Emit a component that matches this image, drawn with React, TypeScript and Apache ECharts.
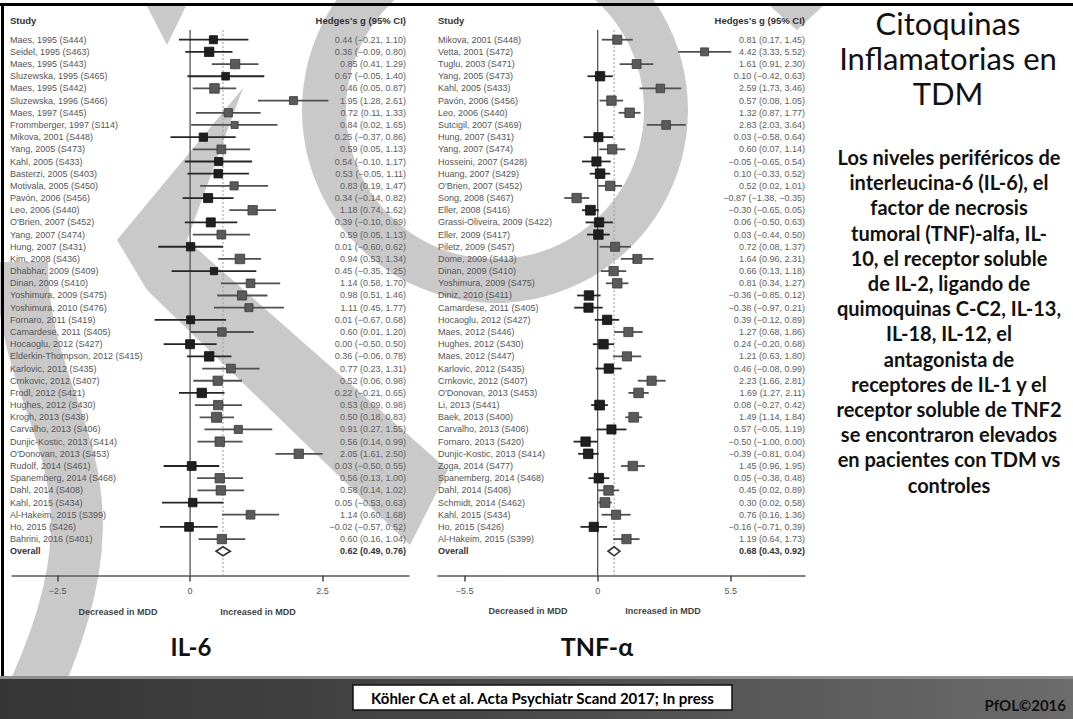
import React, { useEffect, useRef } from 'react';
import * as echarts from 'echarts';

// ---------------- data ----------------
const il6Studies = [
  'Maes, 1995 (S444)', 'Seidel, 1995 (S463)', 'Maes, 1995 (S443)', 'Sluzewska, 1995 (S465)',
  'Maes, 1995 (S442)', 'Sluzewska, 1996 (S466)', 'Maes, 1997 (S445)', 'Frommberger, 1997 (S114)',
  'Mikova, 2001 (S448)', 'Yang, 2005 (S473)', 'Kahl, 2005 (S433)', 'Basterzi, 2005 (S403)',
  'Motivala, 2005 (S450)', 'Pavón, 2006 (S456)', 'Leo, 2006 (S440)', "O'Brien, 2007 (S452)",
  'Yang, 2007 (S474)', 'Hung, 2007 (S431)', 'Kim, 2008 (S436)', 'Dhabhar, 2009 (S409)',
  'Dinan, 2009 (S410)', 'Yoshimura, 2009 (S475)', 'Yoshimura, 2010 (S476)', 'Fornaro, 2011 (S419)',
  'Camardese, 2011 (S405)', 'Hocaoglu, 2012 (S427)', 'Elderkin-Thompson, 2012 (S415)', 'Karlovic, 2012 (S435)',
  'Crnkovic, 2012 (S407)', 'Frodl, 2012 (S421)', 'Hughes, 2012 (S430)', 'Krogh, 2013 (S438)',
  'Carvalho, 2013 (S406)', 'Dunjic-Kostic, 2013 (S414)', "O'Donovan, 2013 (S453)", 'Rudolf, 2014 (S461)',
  'Spanemberg, 2014 (S468)', 'Dahl, 2014 (S408)', 'Kahl, 2015 (S434)', 'Al-Hakeim, 2015 (S399)',
  'Ho, 2015 (S426)', 'Bahrini, 2016 (S401)',
];
const il6Est = [0.44, 0.36, 0.85, 0.67, 0.46, 1.95, 0.72, 0.84, 0.25, 0.59, 0.54, 0.53, 0.83, 0.34, 1.18, 0.39, 0.59, 0.01, 0.94, 0.45, 1.14, 0.98, 1.11, 0.01, 0.60, 0.00, 0.36, 0.77, 0.52, 0.22, 0.53, 0.50, 0.91, 0.56, 2.05, 0.03, 0.56, 0.58, 0.05, 1.14, -0.02, 0.60];
const il6Lo = [-0.21, -0.09, 0.41, -0.05, 0.05, 1.28, 0.11, 0.02, -0.37, 0.05, -0.10, -0.05, 0.19, -0.14, 0.74, -0.10, 0.05, -0.60, 0.53, -0.35, 0.58, 0.51, 0.45, -0.67, 0.01, -0.50, -0.06, 0.23, 0.06, -0.21, 0.09, 0.18, 0.27, 0.14, 1.61, -0.50, 0.13, 0.14, -0.53, 0.60, -0.57, 0.16];
const il6Hi = [1.10, 0.80, 1.29, 1.40, 0.87, 2.61, 1.33, 1.65, 0.86, 1.13, 1.17, 1.11, 1.47, 0.82, 1.62, 0.89, 1.13, 0.62, 1.34, 1.25, 1.70, 1.46, 1.77, 0.68, 1.20, 0.50, 0.78, 1.31, 0.98, 0.65, 0.98, 0.83, 1.55, 0.99, 2.50, 0.55, 1.00, 1.02, 0.63, 1.68, 0.52, 1.04];
const il6Overall = [0.62, 0.49, 0.76];

const tnfStudies = [
  'Mikova, 2001 (S448)', 'Vetta, 2001 (S472)', 'Tuglu, 2003 (S471)', 'Yang, 2005 (S473)',
  'Kahl, 2005 (S433)', 'Pavón, 2006 (S456)', 'Leo, 2006 (S440)', 'Sutcigil, 2007 (S469)',
  'Hung, 2007 (S431)', 'Yang, 2007 (S474)', 'Hosseini, 2007 (S428)', 'Huang, 2007 (S429)',
  "O'Brien, 2007 (S452)", 'Song, 2008 (S467)', 'Eller, 2008 (S416)', 'Grassi-Oliveira, 2009 (S422)',
  'Eller, 2009 (S417)', 'Piletz, 2009 (S457)', 'Dome, 2009 (S413)', 'Dinan, 2009 (S410)',
  'Yoshimura, 2009 (S475)', 'Diniz, 2010 (S411)', 'Camardese, 2011 (S405)', 'Hocaoglu, 2012 (S427)',
  'Maes, 2012 (S446)', 'Hughes, 2012 (S430)', 'Maes, 2012 (S447)', 'Karlovic, 2012 (S435)',
  'Crnkovic, 2012 (S407)', "O'Donovan, 2013 (S453)", 'Li, 2013 (S441)', 'Baek, 2013 (S400)',
  'Carvalho, 2013 (S406)', 'Fornaro, 2013 (S420)', 'Dunjic-Kostic, 2013 (S414)', 'Zoga, 2014 (S477)',
  'Spanemberg, 2014 (S468)', 'Dahl, 2014 (S408)', 'Schmidt, 2014 (S462)', 'Kahl, 2015 (S434)',
  'Ho, 2015 (S426)', 'Al-Hakeim, 2015 (S399)',
];
const tnfEst = [0.81, 4.42, 1.61, 0.10, 2.59, 0.57, 1.32, 2.83, 0.03, 0.60, -0.05, 0.10, 0.52, -0.87, -0.30, 0.06, 0.03, 0.72, 1.64, 0.66, 0.81, -0.36, -0.38, 0.39, 1.27, 0.24, 1.21, 0.46, 2.23, 1.69, 0.08, 1.49, 0.57, -0.50, -0.39, 1.45, 0.05, 0.45, 0.30, 0.76, -0.16, 1.19];
const tnfLo = [0.17, 3.33, 0.91, -0.42, 1.73, 0.08, 0.87, 2.03, -0.58, 0.07, -0.65, -0.33, 0.02, -1.38, -0.65, -0.50, -0.44, 0.08, 0.96, 0.13, 0.34, -0.85, -0.97, -0.12, 0.68, -0.20, 0.63, -0.08, 1.66, 1.27, -0.27, 1.14, -0.05, -1.00, -0.81, 0.96, -0.38, 0.02, 0.02, 0.16, -0.71, 0.64];
const tnfHi = [1.45, 5.52, 2.30, 0.63, 3.46, 1.05, 1.77, 3.64, 0.64, 1.14, 0.54, 0.52, 1.01, -0.35, 0.05, 0.63, 0.50, 1.37, 2.31, 1.18, 1.27, 0.12, 0.21, 0.89, 1.86, 0.68, 1.80, 0.99, 2.81, 2.11, 0.42, 1.84, 1.19, 0.00, 0.04, 1.95, 0.48, 0.89, 0.58, 1.36, 0.39, 1.73];
const tnfOverall = [0.68, 0.43, 0.92];

const il6Ticks = [-2.5, 0, 2.5];
const tnfTicks = [-5.5, 0, 5.5];

const titleLines = ['Citoquinas', 'Inflamatorias en', 'TDM'];
const bodyLines = [
  'Los niveles periféricos de',
  'interleucina-6 (IL-6), el',
  'factor de necrosis',
  'tumoral (TNF)-alfa, IL-',
  '10, el receptor soluble',
  'de IL-2, ligando de',
  'quimoquinas C-C2, IL-13,',
  'IL-18, IL-12, el',
  'antagonista de',
  'receptores de IL-1 y el',
  'receptor soluble de TNF2',
  'se encontraron elevados',
  'en pacientes con TDM vs',
  'controles',
];

// ---------------- layout constants ----------------
const ROW0 = 39.7;
const ROWH = 12.18;
const YMIN = -2.2;
const YMAX = 44;
const GRID_TOP = ROW0 + YMIN * ROWH;
const GRID_H = (YMAX - YMIN) * ROWH;
const CF = '"Liberation Sans", Arial, Helvetica, sans-serif';
const SF = 'Lato, "Open Sans", "Noto Sans", sans-serif';
const WM = '#c9c9c9';

const fmt = (v: number) => (v < 0 ? '\u2212' : '') + Math.abs(v).toFixed(2);
const tickFmt = (v: number) => (v < 0 ? '\u2212' + Math.abs(v) : String(v));

function buildData(est: number[], lo: number[], hi: number[], overall: number[]) {
  const d = est.map((e, i) => [e, lo[i], hi[i], i]);
  d.push([overall[0], overall[1], overall[2], est.length]);
  return d;
}

function forestRender(studies: string[], labelX: number, ciX: number, sizeFn: (w: number) => number) {
  const n = studies.length;
  return (params: any, api: any) => {
    const i = params.dataIndex;
    const est = api.value(0);
    const lo = api.value(1);
    const hi = api.value(2);
    const row = api.value(3);
    const c = api.coord([est, row]);
    const cl = api.coord([lo, row]);
    const ch = api.coord([hi, row]);
    const y = c[1];
    const overall = i === n;
    const children: any[] = [
      {
        type: 'text',
        style: {
          text: overall ? 'Overall' : studies[i], x: labelX, y,
          font: (overall ? 'bold ' : '') + '9px ' + CF,
          fill: overall ? '#333' : '#555',
          align: 'left', verticalAlign: 'middle', textAlign: 'left', textVerticalAlign: 'middle',
        },
      },
      {
        type: 'text',
        style: {
          text: fmt(est) + ' (' + fmt(lo) + ', ' + fmt(hi) + ')', x: ciX, y,
          font: (overall ? 'bold ' : '') + '9px ' + CF,
          fill: overall ? '#333' : '#606060',
          align: 'right', verticalAlign: 'middle', textAlign: 'right', textVerticalAlign: 'middle',
        },
      },
    ];
    if (overall) {
      const top = api.coord([est, row - 0.37])[1];
      const bot = api.coord([est, row + 0.37])[1];
      children.push({
        type: 'polygon',
        shape: { points: [[cl[0], y], [c[0], top], [ch[0], y], [c[0], bot]] },
        style: { fill: '#fff', stroke: '#333', lineWidth: 1.6 },
      });
    } else {
      const sig = lo > 0 || hi < 0;
      const s = sizeFn(hi - lo);
      children.push({
        type: 'line',
        shape: { x1: cl[0], y1: y, x2: ch[0], y2: y },
        style: { stroke: sig ? '#505050' : '#262626', lineWidth: 1.8 },
      });
      children.push({
        type: 'rect',
        shape: { x: c[0] - s / 2, y: y - s / 2, width: s, height: s },
        style: { fill: sig ? '#5a5a5a' : '#1f1f1f', stroke: sig ? '#3a3a3a' : '#111', lineWidth: 0.8 },
      });
    }
    return { type: 'group', children };
  };
}

function refRender(params: any, api: any) {
  const est = api.value(0);
  const z0 = api.coord([0, -0.8]);
  const z1 = api.coord([0, YMAX]);
  const d0 = api.coord([est, -0.8]);
  const d1 = api.coord([est, YMAX]);
  return {
    type: 'group',
    children: [
      { type: 'line', shape: { x1: z0[0], y1: z0[1], x2: z1[0], y2: z1[1] }, style: { stroke: '#555', lineWidth: 1.3 } },
      { type: 'line', shape: { x1: d0[0], y1: d0[1], x2: d1[0], y2: d1[1] }, style: { stroke: '#9a9a9a', lineWidth: 1, lineDash: [2, 2] } },
    ],
  };
}

function mkX(gridIndex: number, min: number, max: number, ticks: number[]) {
  return {
    type: 'value', gridIndex, min, max, position: 'bottom',
    axisLine: { show: true, onZero: false, lineStyle: { color: '#5a5a5a', width: 1.5 } },
    axisTick: { show: true, customValues: ticks, length: 6, lineStyle: { color: '#444', width: 1.5 } },
    axisLabel: { show: true, customValues: ticks, formatter: tickFmt, color: '#555', fontSize: 9, fontFamily: CF, margin: 11 },
    splitLine: { show: false },
  };
}
function mkY(gridIndex: number) {
  return { type: 'value', gridIndex, min: YMIN, max: YMAX, inverse: true, show: false };
}

function txt(text: string, x: number, y: number, font: string, fill: string, align = 'center', z = 1) {
  return {
    type: 'text', z,
    style: { text, x, y, font, fill, align, verticalAlign: 'middle', textAlign: align, textVerticalAlign: 'middle' },
  };
}

function buildOption() {
  const graphics: any[] = [
    // watermark shapes
    { type: 'ring', z: -1, silent: true, shape: { cx: 495, cy: 110, r: 193, r0: 149 }, style: { fill: WM } },
    { type: 'polygon', z: -1, silent: true, shape: { points: [[243, 88], [187, 240], [448, 470], [410, 545], [147, 290], [117, 240]] }, style: { fill: WM } },
    { type: 'polygon', z: -1, silent: true, shape: { points: [[147, 6], [186, 6], [167, 45]] }, style: { fill: WM } },
    { type: 'polygon', z: -1, silent: true, shape: { points: [[770, 6], [823, 6], [797, 30]] }, style: { fill: WM } },
    {
      type: 'bezierCurve', z: -1, silent: true,
      shape: { x1: 22, y1: 262, cpx1: 22, cpy1: 430, cpx2: 150, cpy2: 470, x2: 15, y2: 730 },
      style: { stroke: WM, lineWidth: 52, fill: 'none' },
    },
    // frame
    { type: 'rect', z: 1, shape: { x: 0, y: 3, width: 1073, height: 3 }, style: { fill: '#000' } },
    { type: 'rect', z: 1, shape: { x: 1, y: 3, width: 3, height: 674 }, style: { fill: '#000' } },
    // headers
    txt('Study', 10, 20, 'bold 9.5px ' + CF, '#333', 'left'),
    txt("Hedges's g (95% CI)", 406, 20, 'bold 9.5px ' + CF, '#333', 'right'),
    txt('Study', 438, 20, 'bold 9.5px ' + CF, '#333', 'left'),
    txt("Hedges's g (95% CI)", 805, 20, 'bold 9.5px ' + CF, '#333', 'right'),
    // direction labels
    txt('Decreased in MDD', 118, 612, 'bold 9px ' + CF, '#444'),
    txt('Increased in MDD', 258, 612, 'bold 9px ' + CF, '#444'),
    txt('Decreased in MDD', 528, 611, 'bold 9px ' + CF, '#444'),
    txt('Increased in MDD', 663, 611, 'bold 9px ' + CF, '#444'),
    // panel names
    txt('IL-6', 191, 646, 'bold 24px ' + SF, '#111'),
    txt('TNF-\u03b1', 597, 646, 'bold 25px ' + SF, '#111'),
  ];
  titleLines.forEach((t, i) => graphics.push(txt(t, 948, 23 + i * 35, '31px ' + SF, '#111')));
  bodyLines.forEach((t, i) => graphics.push(txt(t, 949, 157 + i * 25.2, 'bold 20px ' + SF, '#111')));
  // bottom bar
  graphics.push({
    type: 'rect', z: 2, shape: { x: 0, y: 677, width: 1073, height: 42 },
    style: {
      fill: new echarts.graphic.LinearGradient(0, 0, 1, 0, [
        { offset: 0, color: '#353535' },
        { offset: 0.45, color: '#474747' },
        { offset: 1, color: '#6c6c6c' },
      ]),
    },
  });
  graphics.push({ type: 'rect', z: 2, shape: { x: 0, y: 676, width: 1073, height: 3 }, style: { fill: '#8e8e8e' } });
  graphics.push({ type: 'rect', z: 3, shape: { x: 353, y: 685, width: 379, height: 25 }, style: { fill: '#fff', stroke: '#111', lineWidth: 1.5 } });
  graphics.push(txt('Köhler CA et al. Acta Psychiatr Scand 2017; In press', 542.5, 698, 'bold 15px ' + SF, '#000', 'center', 4));
  graphics.push(txt('PfOL\u00a92016', 1066, 705, 'bold 15px ' + SF, '#111', 'right', 4));

  return {
    animation: false,
    backgroundColor: '#ffffff',
    grid: [
      { left: 12, top: GRID_TOP, width: 397, height: GRID_H },
      { left: 438, top: GRID_TOP, width: 367, height: GRID_H },
    ],
    xAxis: [mkX(0, -3.36, 4.13, il6Ticks), mkX(1, -6.6, 8.57, tnfTicks)],
    yAxis: [mkY(0), mkY(1)],
    series: [
      {
        type: 'custom', name: 'ref IL-6', xAxisIndex: 0, yAxisIndex: 0, z: 2, silent: true,
        renderItem: refRender, data: [[il6Overall[0], 0]], encode: { x: 0, y: 1 },
      },
      {
        type: 'custom', name: 'ref TNF', xAxisIndex: 1, yAxisIndex: 1, z: 2, silent: true,
        renderItem: refRender, data: [[tnfOverall[0], 0]], encode: { x: 0, y: 1 },
      },
      {
        type: 'custom', name: 'IL-6', xAxisIndex: 0, yAxisIndex: 0, z: 3, clip: false,
        renderItem: forestRender(il6Studies, 10, 406, (w) => Math.max(6.5, Math.min(10.5, 12 - 3 * w))),
        data: buildData(il6Est, il6Lo, il6Hi, il6Overall), encode: { x: [0, 1, 2], y: 3 },
      },
      {
        type: 'custom', name: 'TNF', xAxisIndex: 1, yAxisIndex: 1, z: 3, clip: false,
        renderItem: forestRender(tnfStudies, 438, 805, (w) => Math.max(7, Math.min(9.8, 10.6 - 1.2 * w))),
        data: buildData(tnfEst, tnfLo, tnfHi, tnfOverall), encode: { x: [0, 1, 2], y: 3 },
      },
    ],
    graphic: { elements: graphics },
  };
}

export default function App() {
  const ref = useRef<HTMLDivElement>(null);
  useEffect(() => {
    document.body.style.margin = '0';
    const chart = echarts.init(ref.current as HTMLDivElement, undefined, { renderer: 'svg' });
    chart.setOption(buildOption() as any);
    return () => chart.dispose();
  }, []);
  return (
    <div
      ref={ref}
      style={{ position: 'absolute', left: 0, top: 0, width: 1073, height: 719, background: '#fff' }}
    />
  );
}
